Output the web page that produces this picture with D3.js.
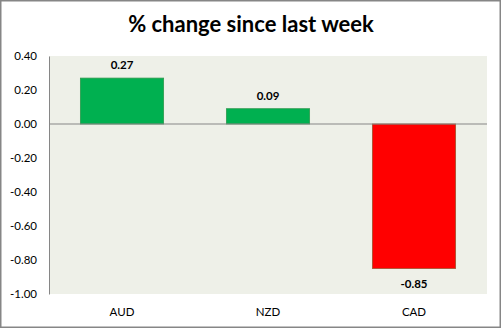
<!DOCTYPE html>
<html><head><meta charset="utf-8">
<script src="https://cdn.jsdelivr.net/npm/d3@7"></script>
<style>html,body{margin:0;padding:0;background:#fff;}svg{display:block;}</style>
</head><body>
<svg id="c" width="502" height="329"></svg>
<script>
const categories = ["AUD", "NZD", "CAD"];
const values = [0.27, 0.09, -0.85];
const tickValues = [0.40, 0.20, 0.00, -0.20, -0.40, -0.60, -0.80, -1.00];
const title = "% change since last week";

const svg = d3.select("#c");
const W = 502, H = 329;
const font = "Lato, 'Open Sans', sans-serif";
const m = {left: 49, right: 487, top: 56, bottom: 294};
const fmt = d3.formatLocale({decimal: ".", thousands: ",", grouping: [3], currency: ["", ""], minus: "-"}).format(".2f");

svg.append("rect").attr("x", 0.75).attr("y", 0.75).attr("width", W - 2.5).attr("height", H - 2.5)
  .attr("fill", "#fff").attr("stroke", "#868686").attr("stroke-width", 1.5);

svg.append("text").attr("x", 251).attr("y", 32).attr("text-anchor", "middle")
  .attr("font-family", font).attr("font-weight", "bold").attr("font-size", 22)
  .attr("fill", "#000").text(title);

const x = d3.scaleBand().domain(categories).range([m.left, m.right]).paddingInner(0.43).paddingOuter(0.215);
const y = d3.scaleLinear().domain([-1.0, 0.4]).range([m.bottom, m.top]);

svg.append("rect").attr("x", m.left).attr("y", m.top).attr("width", m.right - m.left).attr("height", m.bottom - m.top)
  .attr("fill", "#EEF0E8");

const yAxis = d3.axisLeft(y).tickValues(tickValues).tickSize(0).tickPadding(12).tickFormat(fmt);
const gy = svg.append("g").attr("transform", `translate(${m.left},0)`).call(yAxis);
gy.select(".domain").attr("stroke", "#868686");
gy.selectAll("text").attr("font-family", font).attr("font-size", 11.5).attr("fill", "#000");

svg.selectAll("rect.bar").data(values).join("rect").attr("class", "bar")
  .attr("x", (d, i) => x(categories[i]))
  .attr("width", x.bandwidth())
  .attr("y", d => y(Math.max(0, d)))
  .attr("height", d => Math.abs(y(d) - y(0)))
  .attr("fill", d => d >= 0 ? "#00B050" : "#FF0000")
  .attr("stroke", d => d >= 0 ? "#2E9A4E" : "#A0522D").attr("stroke-width", 0.8);

svg.append("line").attr("x1", m.left).attr("x2", m.right).attr("y1", y(0)).attr("y2", y(0))
  .attr("stroke", "#868686").attr("stroke-width", 1);

svg.selectAll("text.lbl").data(values).join("text").attr("class", "lbl")
  .attr("x", (d, i) => x(categories[i]) + x.bandwidth() / 2)
  .attr("y", d => d >= 0 ? y(d) - 9 : y(d) + 19)
  .attr("text-anchor", "middle").attr("font-family", font).attr("font-weight", "bold").attr("font-size", 11.5)
  .attr("fill", "#000").text(d => fmt(d));

svg.selectAll("text.cat").data(categories).join("text").attr("class", "cat")
  .attr("x", d => x(d) + x.bandwidth() / 2).attr("y", 316)
  .attr("text-anchor", "middle").attr("font-family", font).attr("font-size", 11.5)
  .attr("fill", "#000").text(d => d);
</script>
</body></html>
